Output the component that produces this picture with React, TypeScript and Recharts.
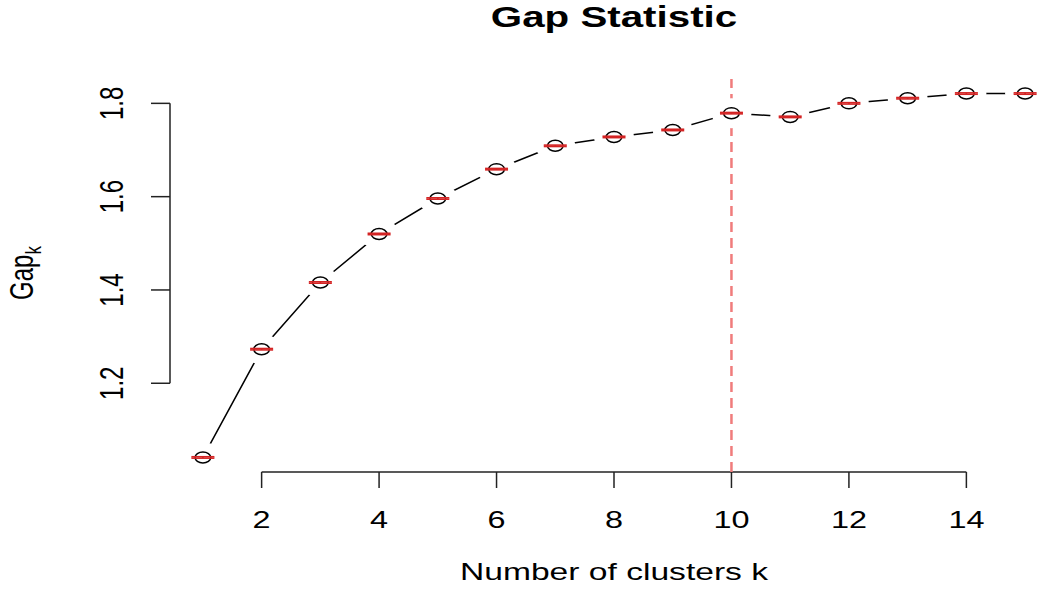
import React from 'react';
import { ComposedChart, Line, Scatter, XAxis, YAxis, ReferenceLine, ErrorBar } from 'recharts';

// gap statistic per number of clusters (R clusGap style plot, stretched horizontally)
const clusters = [1, 2, 3, 4, 5, 6, 7, 8, 9, 10, 11, 12, 13, 14, 15];
const gapValues = [1.041, 1.273, 1.416, 1.52, 1.596, 1.659, 1.709, 1.728, 1.743, 1.779, 1.771, 1.8, 1.811, 1.821, 1.821];
const gapErrors = [0.0015, 0.0015, 0.0015, 0.0015, 0.0015, 0.0015, 0.0015, 0.0015, 0.0015, 0.0015, 0.0015, 0.0015, 0.0015, 0.0015, 0.0015];
const xTicks = [2, 4, 6, 8, 10, 12, 14];
const yTicks = [1.2, 1.4, 1.6, 1.8];
const optimalK = 10;

const xDomain = [0.44, 15.56];
const yDomain = [1.0098, 1.8522];

const FONT = '"Liberation Sans", Arial, Helvetica, sans-serif';
const STRETCH = 1.35;
const AXIS = '#222';

const data = clusters.map((k, i) => ({ k, gap: gapValues[i], se: gapErrors[i] }));

const XTick = (props: any) => {
  const { x, y, payload } = props;
  return (
    <text
      transform={`translate(${x},${y + 38}) scale(${STRETCH},1)`}
      textAnchor="middle"
      fontSize={24}
      fontFamily={FONT}
      fill="#000"
    >
      {payload.value}
    </text>
  );
};

const YTick = (props: any) => {
  const { x, y, payload } = props;
  return (
    <text
      transform={`translate(${x - 26},${y}) scale(${STRETCH},1) rotate(-90)`}
      textAnchor="middle"
      fontSize={24}
      fontFamily={FONT}
      fill="#000"
    >
      {Number(payload.value).toFixed(1)}
    </text>
  );
};

// white gap around each point, like R's type = "b"
const renderGap = (p: any) => (
  <ellipse key={`gap-${p.index}`} cx={p.cx} cy={p.cy} rx={20} ry={15} fill="#fff" />
);

const renderCircle = (p: any) => (
  <ellipse cx={p.cx} cy={p.cy} rx={7.8} ry={5.5} fill="none" stroke="#000" strokeWidth={1.5} />
);

export default function App() {
  return (
    <div style={{ position: 'absolute', left: 0, top: 0, width: 1038, height: 601, overflow: 'hidden', background: '#fff' }}>
      <ComposedChart width={1058} height={601} data={data} margin={{ top: 79, right: 0, bottom: 0, left: 0 }}>
        <XAxis
          dataKey="k"
          type="number"
          domain={xDomain}
          allowDataOverflow
          ticks={xTicks}
          height={129}
          tickSize={16}
          tickLine={{ stroke: AXIS, strokeWidth: 1.5 }}
          axisLine={false}
          tick={XTick}
        />
        <YAxis
          type="number"
          domain={yDomain}
          allowDataOverflow
          ticks={yTicks}
          width={170}
          tickSize={19}
          tickLine={{ stroke: AXIS, strokeWidth: 1.5 }}
          axisLine={false}
          tick={YTick}
        />
        <ReferenceLine
          segment={[{ x: xTicks[0], y: yDomain[0] }, { x: xTicks[xTicks.length - 1], y: yDomain[0] }]}
          stroke={AXIS}
          strokeWidth={1.5}
        />
        <ReferenceLine
          segment={[{ x: xDomain[0], y: yTicks[0] }, { x: xDomain[0], y: yTicks[yTicks.length - 1] }]}
          stroke={AXIS}
          strokeWidth={1.5}
        />
        <Line dataKey="gap" stroke="#000" strokeWidth={1.5} dot={renderGap} activeDot={false} isAnimationActive={false} />
        <ReferenceLine x={optimalK} stroke="#F07C7C" strokeWidth={2.5} strokeDasharray="10 6" />
        <Scatter dataKey="gap" shape={renderCircle} isAnimationActive={false}>
          <ErrorBar
            dataKey="se"
            direction="y"
            width={11.5}
            stroke="#D42424"
            strokeWidth={1.6}
            isAnimationActive={false}
            zIndex={700}
          />
        </Scatter>
      </ComposedChart>
      <svg width={1038} height={601} style={{ position: 'absolute', left: 0, top: 0, pointerEvents: 'none' }}>
        <text
          transform={`translate(614,27) scale(1.4,1)`}
          textAnchor="middle"
          fontSize={28.8}
          fontWeight="bold"
          fontFamily={FONT}
          fill="#000"
        >
          Gap Statistic
        </text>
        <text
          transform={`translate(614,580) scale(1.4,1)`}
          textAnchor="middle"
          fontSize={24}
          fontFamily={FONT}
          fill="#000"
        >
          Number of clusters k
        </text>
        <text
          transform={`translate(33,273) scale(${STRETCH},1) rotate(-90)`}
          textAnchor="middle"
          fontSize={24}
          fontFamily={FONT}
          fill="#000"
        >
          Gap
          <tspan fontSize={17} dy={6}>k</tspan>
        </text>
      </svg>
    </div>
  );
}
